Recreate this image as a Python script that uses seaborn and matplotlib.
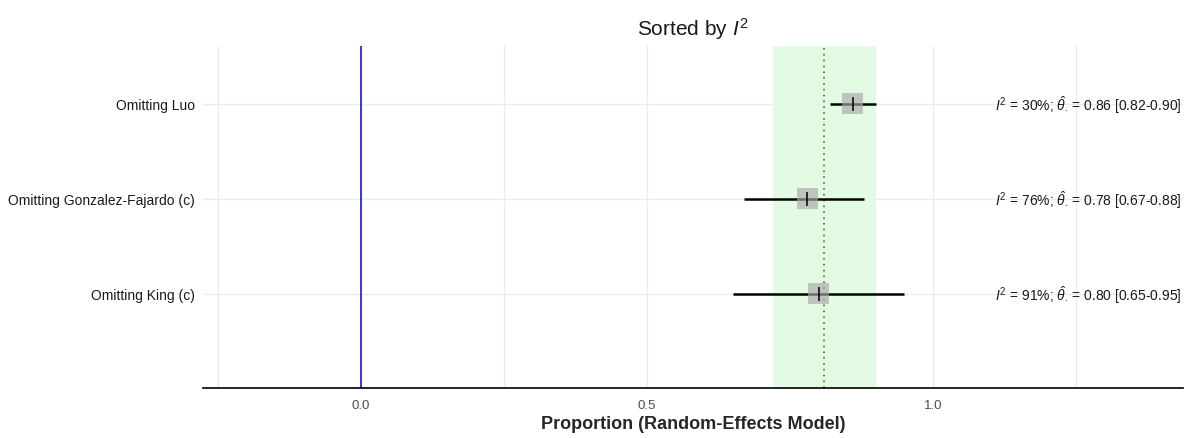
import matplotlib
matplotlib.use("Agg")
import matplotlib.pyplot as plt
from matplotlib.ticker import MultipleLocator
import seaborn as sns
import pandas as pd

# Leave-one-out results, sorted by I^2
labels = ["Omitting Luo", "Omitting Gonzalez-Fajardo (c)", "Omitting King (c)"]
estimates = [0.86, 0.78, 0.80]
lower = [0.82, 0.67, 0.65]
upper = [0.90, 0.88, 0.95]
i2 = [30, 76, 91]

# Pooled estimate and its confidence band
pooled = 0.81
pooled_lo = 0.72
pooled_hi = 0.90

rows = [3, 2, 1]
df = pd.DataFrame({"label": labels, "est": estimates, "lo": lower,
                   "hi": upper, "i2": i2, "row": rows})

sns.set_theme(style="whitegrid")
plt.rcParams["font.family"] = ["Liberation Sans", "DejaVu Sans"]
plt.rcParams["mathtext.fontset"] = "custom"
plt.rcParams["mathtext.rm"] = "Liberation Sans"
plt.rcParams["mathtext.it"] = "Liberation Sans:italic"

fig = plt.figure(figsize=(11.89, 4.39), dpi=100)
ax = fig.add_axes([0.1707, 0.1139, 0.8243, 0.7791])

ax.set_xlim(-0.276, 1.437)
ax.set_ylim(0.01, 3.61)

# grid
ax.xaxis.set_major_locator(MultipleLocator(0.5))
ax.xaxis.set_minor_locator(MultipleLocator(0.25))
ax.grid(which="major", axis="x", color="#EBEBEB", lw=1.0)
ax.grid(which="minor", axis="x", color="#EBEBEB", lw=1.0)
ax.grid(which="major", axis="y", color="#EBEBEB", lw=1.0)
ax.set_axisbelow(True)

# pooled band and line
ax.axvspan(pooled_lo, pooled_hi, color="#E3FAE3", zorder=1, lw=0)
ax.axvline(pooled, color="#2E7D32", ls=(0, (1, 2.5)), lw=1.2, zorder=2)

# null line
ax.axvline(0, color="#1A1AB8", lw=1.2, zorder=2)

# confidence intervals
ax.hlines(df["row"], df["lo"], df["hi"], color="black", lw=1.8, zorder=3)

# point estimates
sns.scatterplot(data=df, x="est", y="row", marker="s", s=230, color="#A8A8A8",
                alpha=0.65, edgecolor="none", ax=ax, zorder=4, legend=False)
sns.scatterplot(data=df, x="est", y="row", marker="|", s=95, color="black",
                linewidth=1.1, ax=ax, zorder=5, legend=False)

# annotations
for _, r in df.iterrows():
    txt = (r"$I^2$" + f" = {r['i2']}%; " + r"$\hat{\theta}_{\cdot}$"
           + f" = {r['est']:.2f} [{r['lo']:.2f}-{r['hi']:.2f}]")
    ax.text(1.435, r["row"], txt, ha="right", va="center", fontsize=10,
            color="#1A1A1A", zorder=6)

ax.set_yticks(rows)
ax.set_yticklabels(labels, fontsize=10, color="#1A1A1A")
ax.set_xticks([0.0, 0.5, 1.0])
ax.set_xticklabels(["0.0", "0.5", "1.0"], fontsize=9.5, color="#4D4D4D")
ax.tick_params(axis="both", length=0, pad=6)
ax.tick_params(axis="x", pad=8)

for s in ["top", "right", "left"]:
    ax.spines[s].set_visible(False)
ax.spines["bottom"].set_color("black")
ax.spines["bottom"].set_linewidth(1.2)

ax.set_xlabel("Proportion (Random-Effects Model)", fontsize=13,
              fontweight="bold", labelpad=3)
ax.set_ylabel("")
ax.set_title(r"Sorted by $I^2$", fontsize=15, pad=8, color="#1A1A1A")

fig.savefig("out.png", dpi=100)
